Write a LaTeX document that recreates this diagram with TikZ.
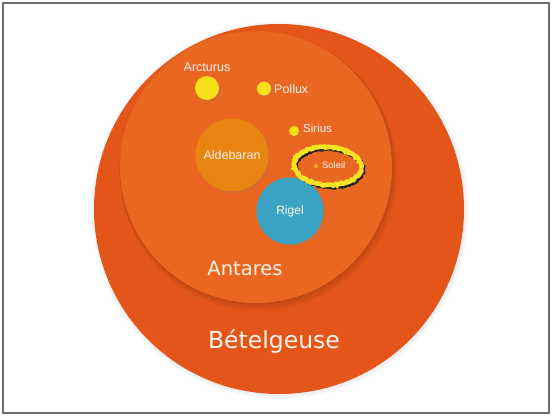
\documentclass[tikz,border=0pt]{standalone}
\usepackage{fontspec}
\setmainfont{Liberation Sans}
\newfontfamily\bigfont{DejaVu Sans}
\usetikzlibrary{shadows,decorations.pathmorphing}
\definecolor{outerorange}{RGB}{227,85,24}
\definecolor{innerorange}{RGB}{233,103,33}
\definecolor{aldeb}{RGB}{234,132,16}
\definecolor{rigelblue}{RGB}{59,163,195}
\definecolor{staryellow}{RGB}{245,225,26}
\definecolor{soleildot}{RGB}{240,165,40}
\definecolor{txtwhite}{RGB}{255,244,232}
\definecolor{framegray}{RGB}{110,110,110}
\tikzset{
  star/.style={circle, fill=staryellow, inner sep=0pt,
    drop shadow={shadow xshift=1.5pt, shadow yshift=-1.5pt, opacity=0.25}},
  starlabel/.style={inner sep=0pt, text=txtwhite, font=\fontsize{12}{12}\selectfont},
  bigstar/.style={circle, inner sep=0pt, text=txtwhite, font=\fontsize{12.5}{13}\selectfont},
  biglabel/.style={inner sep=0pt, text=txtwhite},
}
\begin{document}
\begin{tikzpicture}[x=1pt,y=-1pt]
\useasboundingbox (0,0) rectangle (552,416);
\fill[white] (0,0) rectangle (552,416);
\draw[framegray, line width=1.5pt] (3,3) rectangle (549,413);
% outer circle (Betelgeuse)
\foreach \i in {1,...,4} {\fill[black, opacity=0.015] (280,210) circle (185+\i);}
\node[circle, fill=outerorange, minimum size=370pt, inner sep=0pt] (betel) at (279,209) {};
% inner circle (Antares) with soft shadow
\foreach \i in {1,...,6} {\fill[black, opacity=0.022] (256+0.4*\i,167+0.8*\i) circle (136+0.5*\i);}
\node[circle, fill=innerorange, minimum size=272pt, inner sep=0pt] (antares) at (256,167) {};
% stars
\node[star, minimum size=24pt] (arcturus) at (207,88) {};
\node[starlabel, font=\fontsize{12.5}{13}\selectfont] (arclabel) at (207,67) {Arcturus};
\node[star, minimum size=14pt] (pollux) at (264,88.5) {};
\node[starlabel, anchor=west, font=\fontsize{12.5}{13}\selectfont] (polluxlabel) at (274,89) {Pollux};
\node[star, minimum size=10pt] (sirius) at (294,131) {};
\node[starlabel, anchor=west, font=\fontsize{11.5}{12}\selectfont] (siriuslabel) at (303,128) {Sirius};
\node[bigstar, fill=aldeb, minimum size=73pt,
  drop shadow={shadow xshift=1.5pt, shadow yshift=-1.5pt, opacity=0.2}] (aldebaran) at (232,155) {Aldebaran};
\node[bigstar, fill=rigelblue, minimum size=67pt, font=\fontsize{12}{12}\selectfont,
  drop shadow={shadow xshift=1.5pt, shadow yshift=-1.5pt, opacity=0.2}] (rigel) at (290,211) {Rigel};
\node[circle, fill=soleildot, minimum size=4pt, inner sep=0pt] (soleil) at (316,166) {};
\node[starlabel, anchor=west, font=\fontsize{9.4}{10}\selectfont] (soleillabel) at (322,165.5) {Soleil};
% highlight ellipse
\draw[black!85, line width=4pt, decorate, decoration={random steps, segment length=1.5pt, amplitude=0.7pt}]
  (329.5,168) ellipse [x radius=33.5pt, y radius=19pt, rotate=-4];
\draw[staryellow!95!white, line width=4.6pt, decorate, decoration={random steps, segment length=1.5pt, amplitude=0.8pt}]
  (327.5,166) ellipse [x radius=33.5pt, y radius=19pt, rotate=-4];
% big labels
\node[biglabel, font=\bigfont\fontsize{19.5}{20}\selectfont] (antareslabel) at (245,269) {Antares};
\node[biglabel, font=\bigfont\fontsize{23.5}{24}\selectfont] (betellabel) at (274,342) {Bételgeuse};
\end{tikzpicture}
\end{document}
